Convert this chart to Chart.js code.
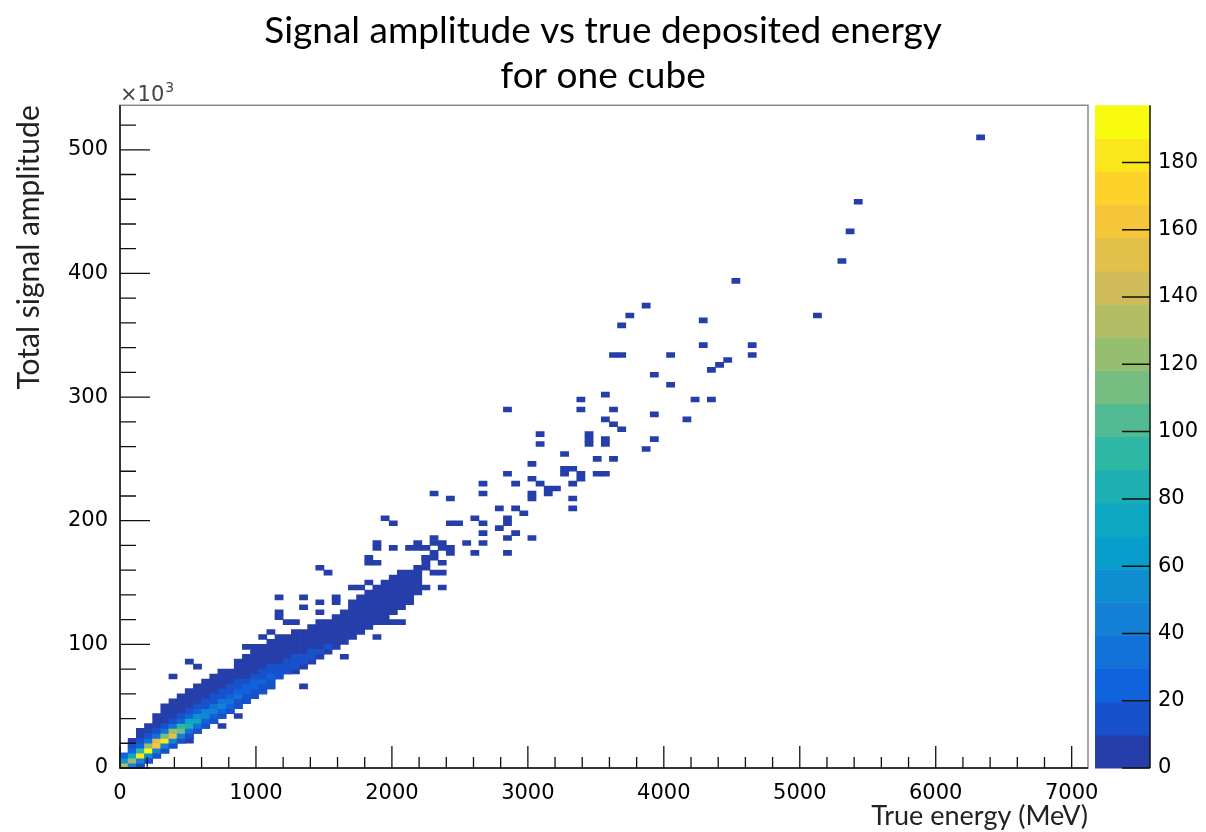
<!DOCTYPE html>
<html>
<head>
<meta charset="utf-8">
<script src="https://cdn.jsdelivr.net/npm/chart.js@4.4.1/dist/chart.umd.min.js"></script>
<style>
  html, body { margin: 0; padding: 0; background: #fff; }
  #wrap { width: 1206px; height: 832px; }
</style>
</head>
<body>
<div id="wrap"><canvas id="hist2d" width="1206" height="832"></canvas></div>
<script>
// bin size of the 2D histogram: 60 MeV x 4 (x10^3)
const binE = 60;
const binK = 4;
const zMax = 197;
const nBands = 20;

// dense core: one run of low-count bins per energy column
const colE  = [30, 90, 150, 210, 270, 330, 390, 450, 510, 570, 630, 690, 750, 810, 870, 930, 990, 1050, 1110, 1170,
               1230, 1290, 1350, 1410, 1470, 1530, 1590, 1650, 1710, 1770, 1830, 1890, 1950, 2010, 2070, 2130, 2190];
const colLo = [0, 0, 0, 4, 8, 12, 16, 20, 24, 28, 32, 36, 40, 44, 48, 52, 56, 60, 64, 72,
               76, 76, 80, 84, 88, 92, 96, 100, 104, 108, 112, 116, 120, 124, 128, 132, 140];
const colHi = [12, 24, 32, 36, 44, 52, 56, 60, 64, 68, 72, 76, 80, 80, 88, 92, 100, 100, 104, 108,
               108, 112, 112, 116, 120, 120, 124, 128, 136, 140, 144, 148, 152, 156, 160, 160, 164];

// ridge of higher-count bins (bin centre E, bin centre amplitude, entries)
const hotE = [30, 30, 30,
              90, 90, 90, 90, 90,
              150, 150, 150, 150, 150, 150,
              210, 210, 210, 210, 210, 210,
              270, 270, 270, 270, 270, 270,
              330, 330, 330, 330, 330, 330,
              390, 390, 390, 390, 390, 390,
              450, 450, 450, 450, 450, 450,
              510, 510, 510, 510, 510, 510,
              570, 570, 570, 570, 570, 570,
              630, 630, 630, 630, 630, 630,
              690, 690, 690, 690, 690, 690,
              750, 750, 750, 750, 750, 750,
              810, 810, 810, 810, 810, 810,
              870, 870, 870, 870, 870, 870,
              930, 930, 930, 930, 930,
              990, 990, 990, 990, 990,
              1050, 1050, 1050, 1050, 1050,
              1110, 1110, 1110, 1110, 1110,
              1170, 1170, 1170,
              1230, 1230, 1230,
              1290, 1290, 1290,
              1350, 1350,
              1410, 1410,
              1470, 1530];
const hotK = [2, 6, 10,
              2, 6, 10, 14, 18,
              2, 6, 10, 14, 18, 22,
              6, 10, 14, 18, 22, 26,
              10, 14, 18, 22, 26, 30,
              14, 18, 22, 26, 30, 34,
              18, 22, 26, 30, 34, 38,
              22, 26, 30, 34, 38, 42,
              26, 30, 34, 38, 42, 46,
              30, 34, 38, 42, 46, 50,
              34, 38, 42, 46, 50, 54,
              38, 42, 46, 50, 54, 58,
              42, 46, 50, 54, 58, 62,
              46, 50, 54, 58, 62, 66,
              50, 54, 58, 62, 66, 70,
              54, 58, 62, 66, 70,
              58, 62, 66, 70, 74,
              62, 66, 70, 74, 78,
              66, 70, 74, 78, 82,
              74, 78, 82,
              78, 82, 86,
              82, 86, 90,
              86, 90,
              90, 94,
              94, 98];
const hotN = [130, 60, 20,
              40, 120, 70, 25, 12,
              15, 40, 180, 90, 20, 12,
              15, 50, 190, 120, 30, 12,
              15, 40, 160, 150, 35, 12,
              15, 40, 180, 110, 30, 12,
              14, 40, 150, 120, 30, 12,
              14, 40, 110, 90, 28, 12,
              13, 35, 80, 70, 22, 12,
              13, 30, 70, 55, 20, 11,
              12, 28, 55, 45, 18, 11,
              12, 25, 45, 38, 16, 10,
              12, 22, 40, 30, 15, 10,
              11, 20, 35, 28, 14, 10,
              11, 18, 30, 25, 13, 10,
              10, 16, 28, 22, 12,
              10, 14, 25, 20, 12,
              10, 14, 22, 16, 10,
              10, 12, 20, 14, 10,
              12, 16, 12,
              11, 14, 11,
              12, 13, 10,
              11, 12,
              10, 11,
              10, 10];

// isolated low-count bins away from the core
const outE = [6330, 5430, 5370, 5310, 4530, 5130, 4290, 4290, 4650, 4650,
              3870, 3750, 3690, 3630, 3690, 4050, 4470, 4410, 4350, 3930,
              4050, 3570, 3390, 3390, 3630, 4230, 4350, 3930, 4170, 3570,
              3630, 3690, 3450, 3450, 3450, 3570, 3570, 3090, 3090, 3930,
              3870, 2850, 3270, 3510, 3630, 3030, 3270, 3330, 3270, 3390,
              3510, 3570, 3390, 3030, 2850, 3090, 3330, 3150, 3210, 3150,
              3030, 2670, 2910, 2670, 3330, 2310, 2430, 3030, 3330, 2790,
              2910, 2970, 1950, 2010, 2430, 2490, 2610, 2670, 2790, 2850,
              2850, 2670, 2670, 2850, 2910, 3030, 2850, 2310, 2310, 2370,
              2370, 2430, 2430, 2550, 2610, 2250, 2310, 2250, 2310, 2370,
              1890, 1890, 2010, 2130, 2190, 2190, 1830, 1830, 1890, 2250,
              2250, 2250, 2310, 2370, 2370, 2250, 1710, 1830, 1470, 1530,
              510, 570, 390, 510, 1350, 510, 1170, 1350, 1950, 1170,
              1350, 1470, 1170, 1470, 1590, 1770, 2010, 930, 1050, 1230,
              1290, 1110, 1650, 1590, 1890, 2070, 750, 870];
const outK = [510, 458, 434, 410, 394, 366, 362, 342, 342, 334,
              374, 366, 358, 334, 334, 334, 330, 326, 322, 318,
              310, 302, 298, 290, 290, 298, 298, 286, 282, 282,
              278, 274, 270, 266, 262, 266, 262, 270, 262, 266,
              258, 290, 254, 250, 250, 246, 242, 242, 238, 238,
              238, 238, 234, 234, 238, 230, 230, 226, 226, 222,
              222, 230, 230, 222, 218, 222, 218, 218, 210, 210,
              210, 206, 202, 198, 198, 198, 202, 198, 194, 202,
              198, 190, 182, 186, 190, 186, 174, 186, 182, 182,
              178, 178, 174, 182, 174, 178, 174, 170, 170, 166,
              182, 178, 178, 178, 182, 178, 170, 166, 166, 170,
              166, 162, 158, 158, 146, 146, 146, 150, 162, 158,
              86, 82, 74, 62, 66, 22, 122, 130, 118, 138,
              138, 134, 126, 126, 134, 146, 118, 98, 106, 118,
              118, 110, 90, 138, 106, 118, 34, 42];

// labelled (major) tick values
const xMajor = [0, 1000, 2000, 3000, 4000, 5000, 6000, 7000];
const yMajor = [0, 100, 200, 300, 400, 500];
const zMajor = [0, 20, 40, 60, 80, 100, 120, 140, 160, 180];

// ROOT kBird palette
const birdStop = [0, 0.125, 0.25, 0.375, 0.5, 0.625, 0.75, 0.875, 1];
const birdR = [0.2082, 0.0592, 0.0780, 0.0232, 0.1802, 0.5301, 0.8186, 0.9956, 0.9764];
const birdG = [0.1664, 0.3599, 0.5041, 0.6419, 0.7178, 0.7492, 0.7328, 0.7862, 0.9832];
const birdB = [0.5293, 0.8684, 0.8385, 0.7914, 0.6425, 0.4662, 0.3499, 0.1968, 0.0539];

function bird(t) {
  let i = 0;
  while (i < birdStop.length - 2 && t > birdStop[i + 1]) i++;
  const f = (t - birdStop[i]) / (birdStop[i + 1] - birdStop[i]);
  const c = (a) => Math.round(255 * (a[i] + f * (a[i + 1] - a[i])));
  return 'rgb(' + c(birdR) + ',' + c(birdG) + ',' + c(birdB) + ')';
}
const bandColors = [];
for (let b = 0; b < nBands; b++) bandColors.push(bird((b + 0.99) / nBands));
function countColor(n) {
  return bandColors[Math.min(nBands - 1, Math.floor(n / (zMax / nBands)))];
}

const tickFont = { family: 'DejaVu Sans', size: 21 };

// frame, ROOT style inward ticks, x10^3 and the colour palette
const rootDecor = {
  id: 'rootDecor',
  afterDatasetsDraw(chart) {
    const { ctx, chartArea: a, scales } = chart;
    const sx = scales.x, sy = scales.y, sz = scales.z;
    ctx.save();
    ctx.lineWidth = 1.5;
    ctx.strokeStyle = '#8a8a8a';
    ctx.strokeRect(a.left, a.top, a.right - a.left, a.bottom - a.top);
    ctx.strokeStyle = '#111';
    ctx.beginPath();
    ctx.moveTo(a.left, a.top); ctx.lineTo(a.left, a.bottom); ctx.lineTo(a.right, a.bottom);
    ctx.stroke();
    ctx.lineWidth = 1.3;
    ctx.beginPath();
    sx.ticks.forEach((t) => {
      const px = sx.getPixelForValue(t.value);
      const len = xMajor.includes(t.value) ? 22 : 11;
      ctx.moveTo(px, a.bottom); ctx.lineTo(px, a.bottom - len);
    });
    sy.ticks.forEach((t) => {
      const py = sy.getPixelForValue(t.value);
      const len = yMajor.includes(t.value) ? 30 : 16;
      ctx.moveTo(a.left, py); ctx.lineTo(a.left + len, py);
    });
    ctx.stroke();
    // exponent of the y axis
    ctx.fillStyle = '#444';
    ctx.font = '21px "DejaVu Sans"';
    ctx.textBaseline = 'alphabetic';
    ctx.textAlign = 'left';
    ctx.fillText('\u00d710', a.left, a.top - 4);
    const w = ctx.measureText('\u00d710').width;
    ctx.font = '14px "DejaVu Sans"';
    ctx.fillText('3', a.left + w + 1, a.top - 13);
    // palette
    const x0 = a.right + 7, x1 = a.right + 62;
    const step = zMax / nBands;
    for (let b = 0; b < nBands; b++) {
      const yb = sz.getPixelForValue(b * step);
      const yt = sz.getPixelForValue((b + 1) * step);
      ctx.fillStyle = bandColors[b];
      ctx.fillRect(x0, yt, x1 - x0, yb - yt + 0.5);
    }
    ctx.strokeStyle = '#111';
    ctx.lineWidth = 1.5;
    ctx.beginPath();
    ctx.moveTo(x1, a.top); ctx.lineTo(x1, a.bottom);
    sz.ticks.forEach((t) => {
      if (!zMajor.includes(t.value)) return;
      const py = sz.getPixelForValue(t.value);
      ctx.moveTo(x1, py); ctx.lineTo(x1 - 28, py);
    });
    ctx.stroke();
    ctx.restore();
  }
};

const ctx = document.getElementById('hist2d').getContext('2d');
new Chart(ctx, {
  type: 'bar',
  data: {
    datasets: [
      {
        label: 'ridge',
        data: hotE.map((e, i) => ({ x: e, y: [hotK[i] - binK / 2, hotK[i] + binK / 2] })),
        backgroundColor: (c) => countColor(hotN[c.dataIndex])
      },
      {
        label: 'isolated',
        data: outE.map((e, i) => ({ x: e, y: [outK[i] - binK / 2, outK[i] + binK / 2] })),
        backgroundColor: countColor(1)
      },
      {
        label: 'core',
        data: colE.map((e, i) => ({ x: e, y: [colLo[i], colHi[i]] })),
        backgroundColor: countColor(3)
      }
    ]
  },
  options: {
    responsive: false,
    animation: false,
    events: [],
    grouped: false,
    barPercentage: 1,
    categoryPercentage: 1,
    borderWidth: 0,
    borderSkipped: false,
    layout: { padding: 0 },
    plugins: {
      legend: { display: false },
      tooltip: { enabled: false },
      title: {
        display: true,
        text: ['Signal amplitude vs true deposited energy', 'for one cube'],
        color: '#000',
        font: { family: 'Lato', size: 37, weight: 'normal', lineHeight: 1.22 },
        padding: { top: 8, bottom: 7 }
      }
    },
    scales: {
      x: {
        type: 'linear',
        min: 0,
        max: 7120,
        offset: false,
        grid: { display: false },
        border: { display: false },
        ticks: {
          stepSize: 200,
          includeBounds: false,
          autoSkip: false,
          maxRotation: 0,
          padding: 5,
          color: '#000',
          font: tickFont,
          callback: (v) => (xMajor.includes(v) ? String(v) : '')
        },
        title: {
          display: true,
          text: 'True energy (MeV)',
          align: 'end',
          color: '#222',
          font: { family: 'Lato', size: 27 },
          padding: { top: 0, bottom: 0 }
        },
        afterFit: (s) => { s.height = 64; }
      },
      y: {
        type: 'linear',
        min: 0,
        max: 536,
        grid: { display: false },
        border: { display: false },
        ticks: {
          stepSize: 20,
          includeBounds: false,
          autoSkip: false,
          padding: 4,
          color: '#000',
          font: tickFont,
          callback: (v) => (yMajor.includes(v) ? String(v) : '')
        },
        title: {
          display: true,
          text: 'Total signal amplitude',
          align: 'end',
          color: '#222',
          font: { family: 'Lato', size: 30 },
          padding: { top: 11, bottom: 0 }
        },
        afterFit: (s) => { s.width = 120; }
      },
      z: {
        type: 'linear',
        position: 'right',
        min: 0,
        max: zMax,
        grid: { display: true, drawOnChartArea: false, drawTicks: true, tickLength: 68, color: 'rgba(0,0,0,0)' },
        border: { display: false },
        ticks: {
          stepSize: 20,
          includeBounds: false,
          autoSkip: false,
          padding: 2,
          color: '#000',
          font: tickFont,
          callback: (v) => (zMajor.includes(v) ? String(v) : '')
        },
        afterFit: (s) => { s.width = 118; }
      }
    }
  },
  plugins: [rootDecor]
});
</script>
</body>
</html>
